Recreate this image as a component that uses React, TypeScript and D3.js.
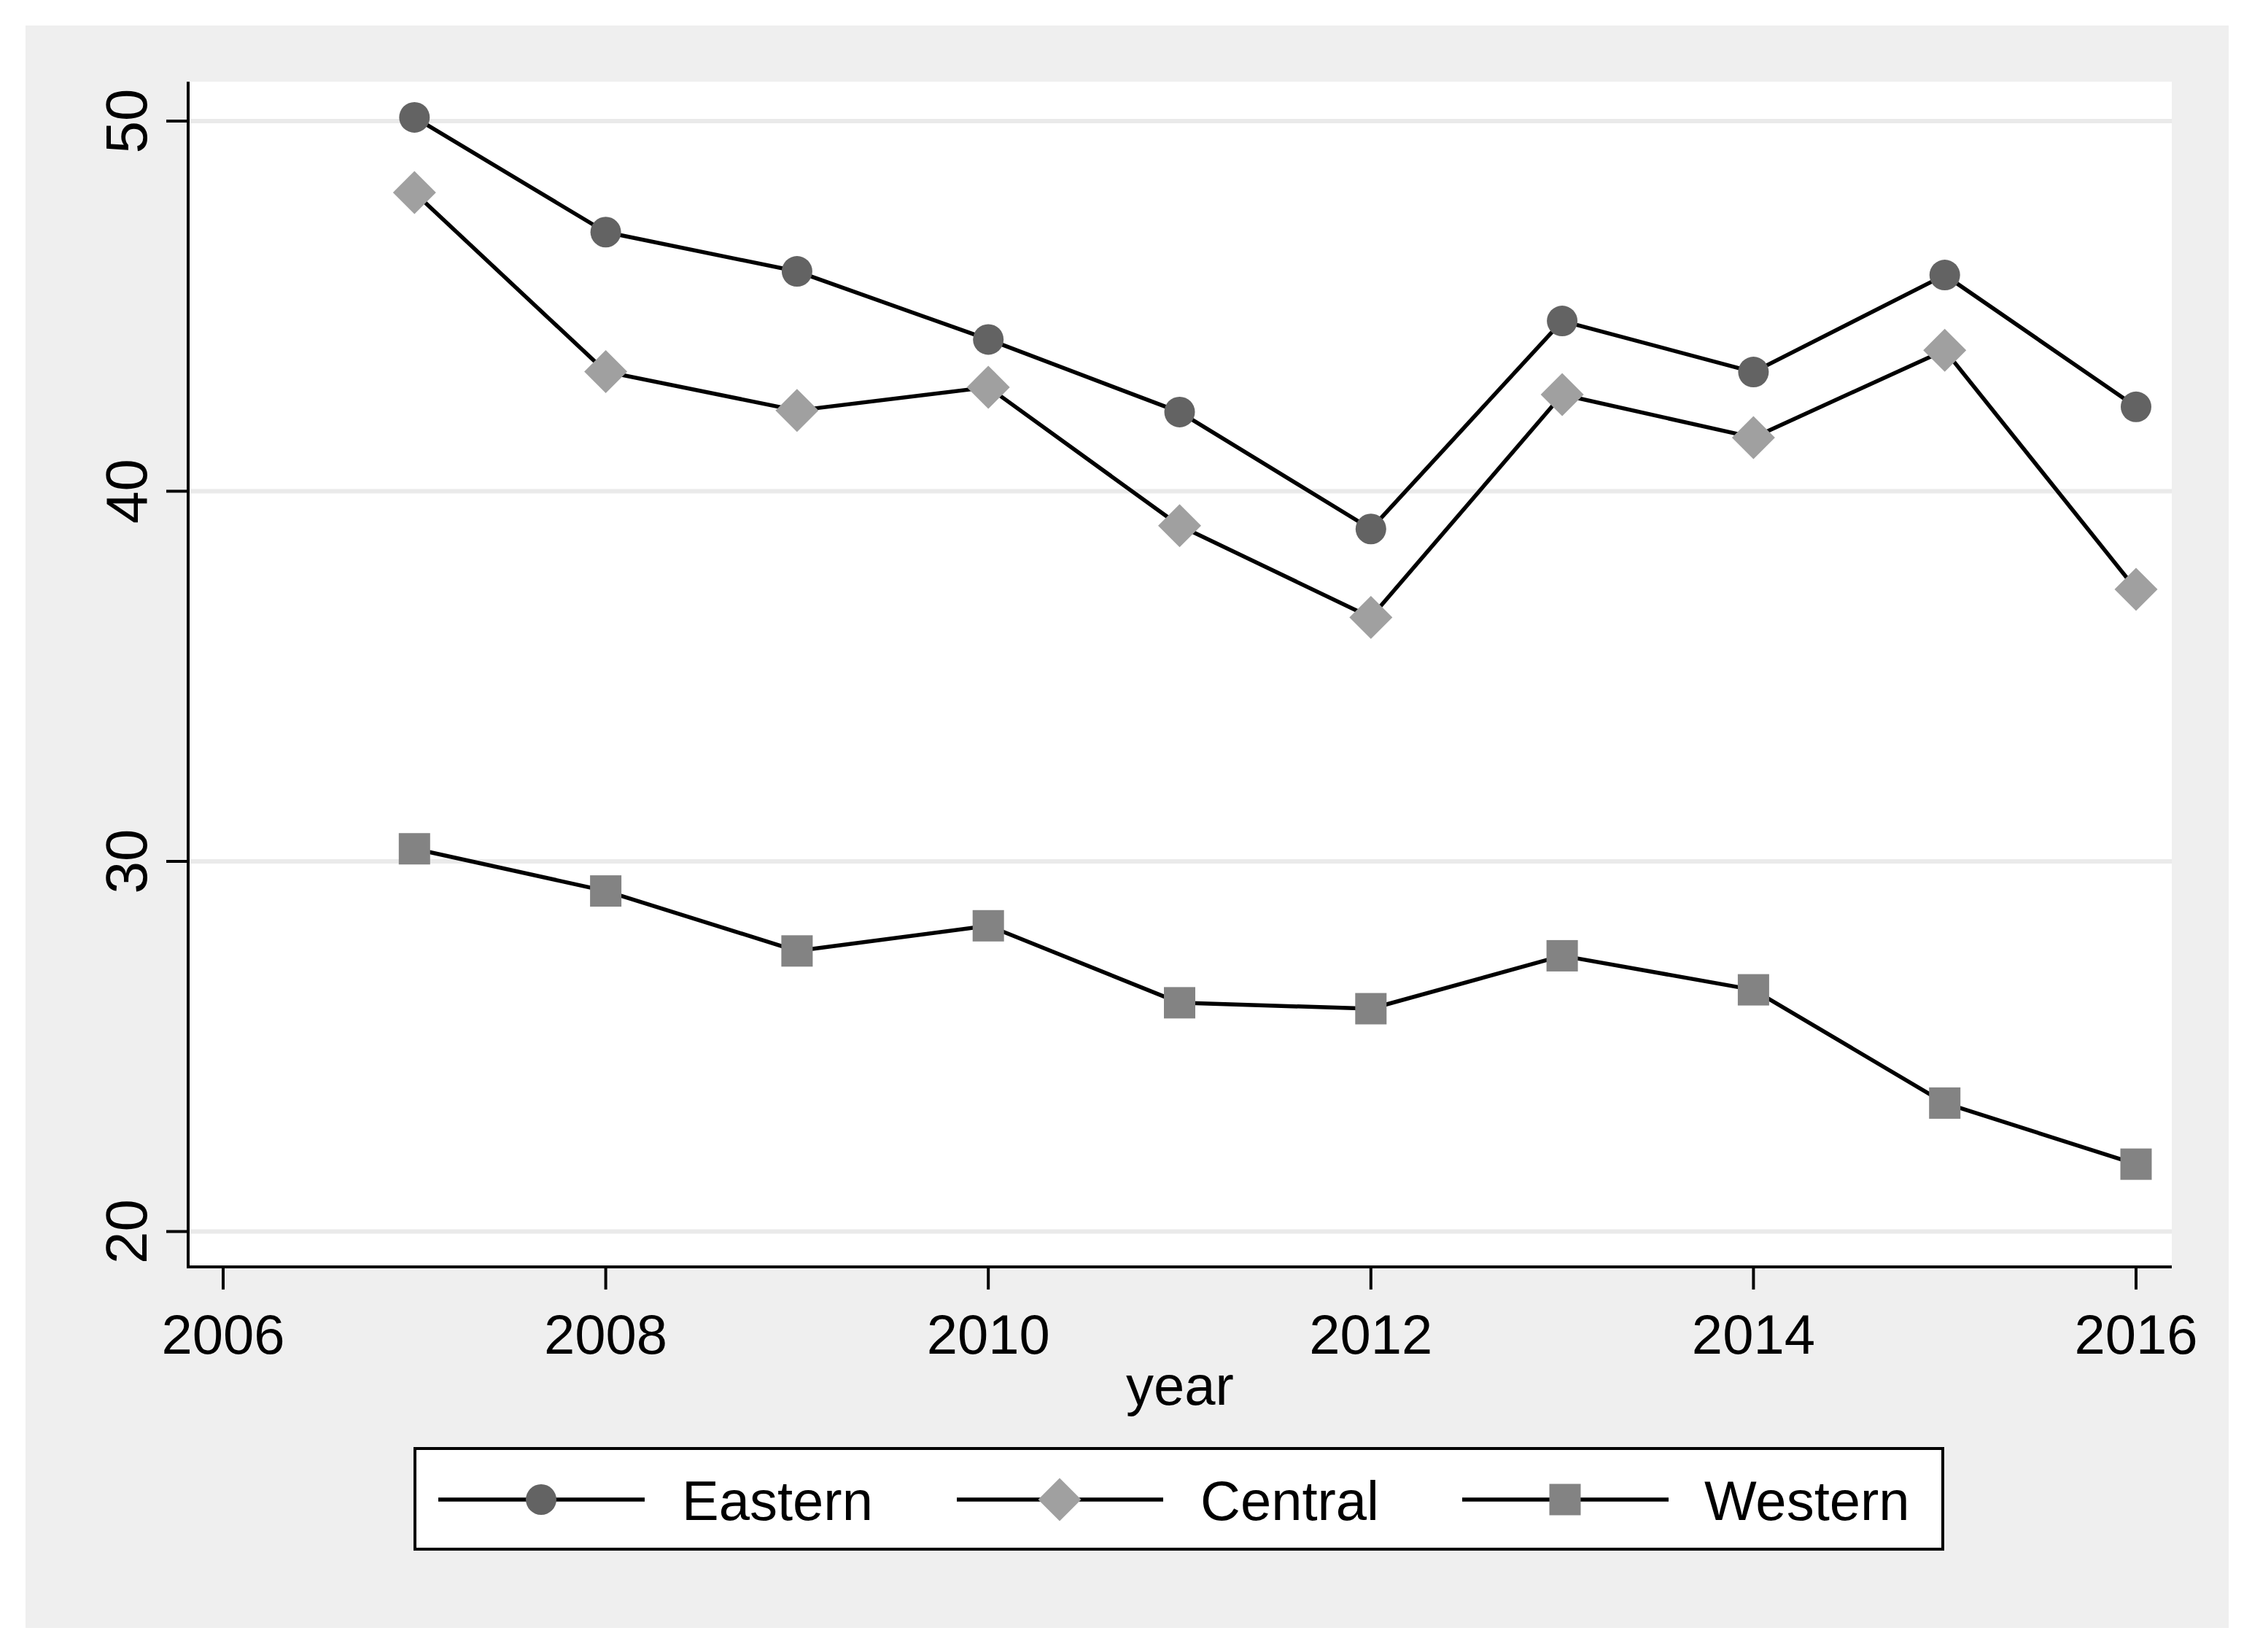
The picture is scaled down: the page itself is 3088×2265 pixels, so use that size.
import React from "react";
import * as d3 from "d3";

const years = [2007, 2008, 2009, 2010, 2011, 2012, 2013, 2014, 2015, 2016];
const eastern = [50.1, 47.0, 45.94, 44.1, 42.14, 38.98, 44.6, 43.22, 45.84, 42.28];
const central = [48.07, 43.23, 42.18, 42.81, 39.07, 36.59, 42.61, 41.45, 43.81, 37.35];
const western = [30.34, 29.2, 27.58, 28.26, 26.18, 26.02, 27.45, 26.53, 23.47, 21.82];
const xTicks = [2006, 2008, 2010, 2012, 2014, 2016];
const yTicks = [20, 30, 40, 50];
const seriesNames = ["Eastern", "Central", "Western"];

const W = 3088;
const H = 2265;
const FONT = "'Liberation Sans', Arial, Helvetica, sans-serif";

const plot = { left: 258, right: 2978, top: 112, bottom: 1737 };

const x = d3.scaleLinear().domain([2006, 2016]).range([306, 2929]);
const y = d3.scaleLinear().domain([20, 50]).range([1688.5, 166]);

const line = d3
  .line<number>()
  .x((_, i) => x(years[i]))
  .y((d) => y(d));

const markerColors = ["#636363", "#a0a0a0", "#838383"];

function Marker({ kind, cx, cy }: { kind: number; cx: number; cy: number }) {
  if (kind === 0) return <circle cx={cx} cy={cy} r={21} fill={markerColors[0]} />;
  if (kind === 1) {
    const s = 29.5;
    return (
      <path
        d={`M${cx},${cy - s}L${cx + s},${cy}L${cx},${cy + s}L${cx - s},${cy}Z`}
        fill={markerColors[1]}
      />
    );
  }
  return <rect x={cx - 21.5} y={cy - 21.5} width={43} height={43} fill={markerColors[2]} />;
}

export default function App() {
  const series = [eastern, central, western];
  const legendMarkers = [742, 1453, 2146];
  const legendTexts = [935, 1646, 2337];
  const legendCy = 2056;
  return (
    <svg
      width={W}
      height={H}
      viewBox={`0 0 ${W} ${H}`}
      style={{ position: "absolute", left: 0, top: 0, background: "#ffffff" }}
      fontFamily={FONT}
    >
      <rect x={35} y={35} width={3021} height={2197} fill="#efefef" />
      <rect
        x={plot.left}
        y={plot.top}
        width={plot.right - plot.left}
        height={plot.bottom - plot.top}
        fill="#ffffff"
      />
      {yTicks.map((t) => (
        <line
          key={"g" + t}
          x1={plot.left}
          x2={plot.right}
          y1={y(t)}
          y2={y(t)}
          stroke="#eaeaea"
          strokeWidth={6}
        />
      ))}
      {series.map((s, k) => (
        <path key={"l" + k} d={line(s) || ""} fill="none" stroke="#000" strokeWidth={5.5} strokeLinejoin="round" />
      ))}
      {series.map((s, k) =>
        s.map((v, i) => <Marker key={`m${k}-${i}`} kind={k} cx={x(years[i])} cy={y(v)} />)
      )}
      <line x1={plot.left} x2={plot.left} y1={plot.top} y2={plot.bottom + 2} stroke="#000" strokeWidth={4} />
      <line x1={plot.left - 2} x2={plot.right} y1={plot.bottom} y2={plot.bottom} stroke="#000" strokeWidth={4} />
      {yTicks.map((t) => (
        <g key={"yt" + t}>
          <line x1={plot.left - 30} x2={plot.left} y1={y(t)} y2={y(t)} stroke="#000" strokeWidth={4} />
          <text
            transform={`translate(201,${y(t)}) rotate(-90)`}
            textAnchor="middle"
            fontSize={80}
            fill="#000"
          >
            {t}
          </text>
        </g>
      ))}
      {xTicks.map((t) => (
        <g key={"xt" + t}>
          <line x1={x(t)} x2={x(t)} y1={plot.bottom} y2={plot.bottom + 31} stroke="#000" strokeWidth={4} />
          <text x={x(t)} y={1856} textAnchor="middle" fontSize={76} fill="#000">
            {t}
          </text>
        </g>
      ))}
      <text x={(plot.left + plot.right) / 2} y={1926} textAnchor="middle" fontSize={76} fill="#000">
        year
      </text>
      <rect x={569} y={1986} width={2095} height={138} fill="#ffffff" stroke="#000" strokeWidth={4} />
      {seriesNames.map((n, k) => (
        <g key={"lg" + k}>
          <line
            x1={legendMarkers[k] - 141}
            x2={legendMarkers[k] + 142}
            y1={legendCy}
            y2={legendCy}
            stroke="#000"
            strokeWidth={5.5}
          />
          <Marker kind={k} cx={legendMarkers[k]} cy={legendCy} />
          <text x={legendTexts[k]} y={2084} fontSize={76} fill="#000">
            {n}
          </text>
        </g>
      ))}
    </svg>
  );
}
